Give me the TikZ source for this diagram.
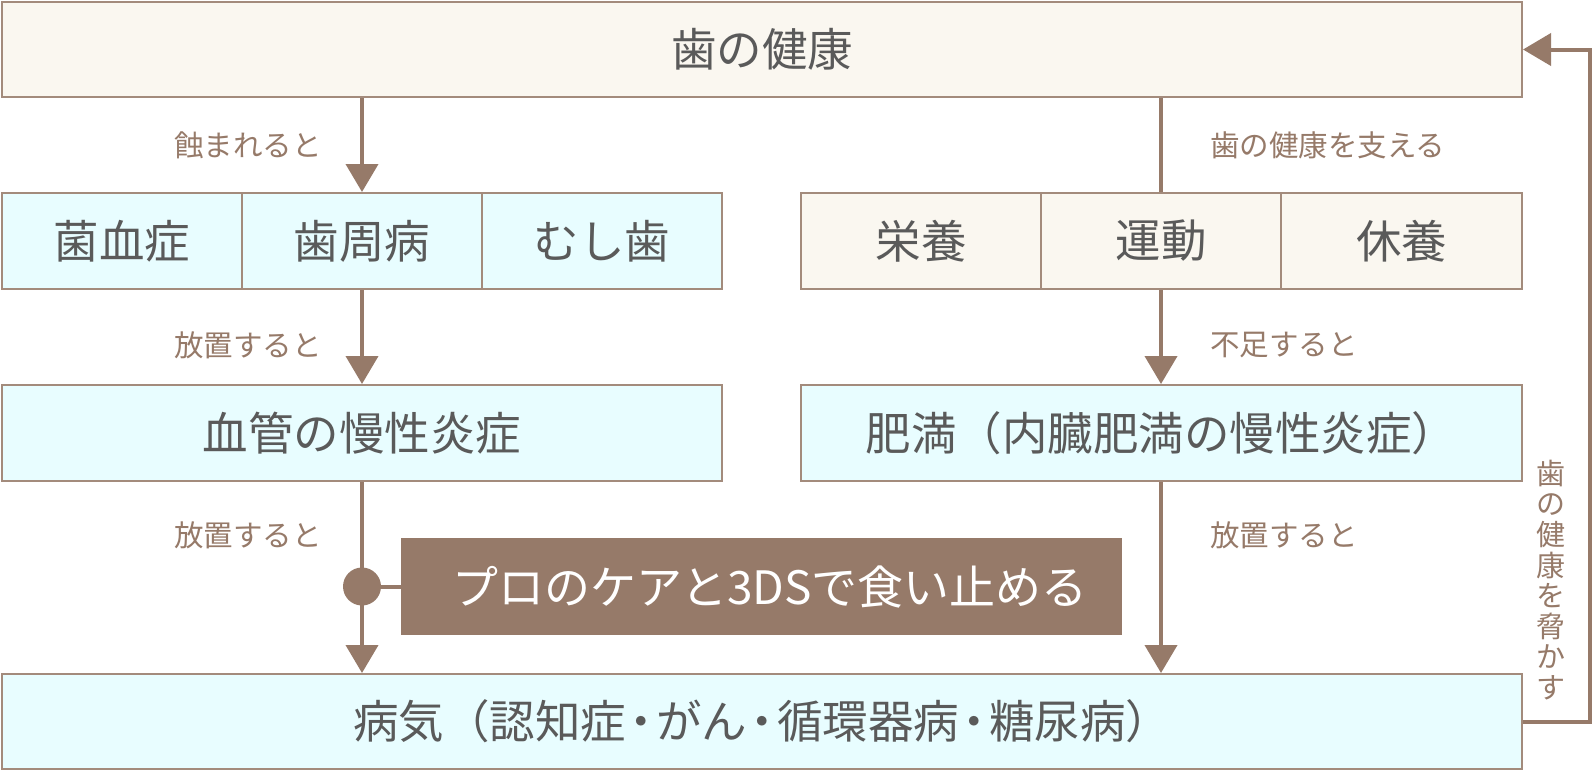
\documentclass[tikz,border=0pt]{standalone}
\usepackage{fontspec}
\setmainfont{Noto Sans CJK JP}
\usetikzlibrary{arrows.meta}
\definecolor{brn}{HTML}{967A69}
\definecolor{bord}{HTML}{A38B7C}
\definecolor{beigef}{HTML}{FAF7F0}
\definecolor{cyanf}{HTML}{E8FDFF}
\definecolor{txt}{HTML}{5A5A5A}
\newcommand{\nkg}{\makebox[30pt]{・}}
\begin{document}
\begin{tikzpicture}[x=1pt,y=-1pt,
  box/.style={draw=bord, line width=2pt, inner sep=0pt, text=txt,
    font=\fontsize{45.5}{50}\selectfont, minimum height=95pt},
  beigebox/.style={box, fill=beigef},
  cyanbox/.style={box, fill=cyanf},
  carebox/.style={fill=brn, draw=none, text=white, inner sep=0pt,
    font=\fontsize{46}{50}\selectfont, minimum width=721pt, minimum height=97pt},
  lbl/.style={text=brn, inner sep=0pt, font=\fontsize{29.5}{32}\selectfont},
  conn/.style={draw=brn, line width=4pt},
  arr/.style={conn, -{Triangle[width=32pt,length=28pt]}}
]
\useasboundingbox (0,0) rectangle (1592,771);
\fill[white] (0,0) rectangle (1592,771);

% boxes
\node[beigebox, minimum width=1520pt] (top) at (762,49.5) {歯の健康};
\node[cyanbox, minimum width=240pt, minimum height=96pt] (c1) at (122,241) {菌血症};
\node[cyanbox, minimum width=240pt, minimum height=96pt] (c2) at (362,241) {歯周病};
\node[cyanbox, minimum width=240pt, minimum height=96pt] (c3) at (602,241) {むし歯};
\node[beigebox, minimum width=240pt, minimum height=96pt] (r1) at (921,241) {栄養};
\node[beigebox, minimum width=240pt, minimum height=96pt] (r2) at (1161,241) {運動};
\node[beigebox, minimum width=241pt, minimum height=96pt] (r3) at (1401.5,241) {休養};
\node[cyanbox, minimum width=720pt, minimum height=96pt] (v3) at (362,433) {血管の慢性炎症};
\node[cyanbox, minimum width=721pt, minimum height=96pt] (o3) at (1161.5,433) {肥満（内臓肥満の慢性炎症）};
\node[cyanbox, minimum width=1520pt] (bot) at (762,721.5) {病気（認知症\nkg がん\nkg 循環器病\nkg 糖尿病）};
\node[carebox] (care) at (761.5,586.5) {\hspace*{17pt}プロのケアと3DSで食い止める};

% connectors
\draw[arr] (top.south -| c2.center) -- (c2.north);
\draw[conn] (top.south -| r2.center) -- (r2.north);
\draw[arr] (c2.south) -- (v3.north);
\draw[arr] (r2.south) -- (o3.north -| r2.center);
\draw[arr] (v3.south) -- (bot.north -| v3.south);
\draw[arr] (o3.south -| r2.center) -- (bot.north -| r2.center);
\coordinate (dot) at (v3.south |- care.west);
\fill[brn] (dot) circle (19pt);
\draw[conn] (dot) -- (care.west);
\draw[arr] (bot.east) -- ++(67,0) |- (top.east);

% labels
\node[lbl, anchor=east] (l1) at (322,145) {蝕まれると};
\node[lbl, anchor=east] (l2) at (322,345) {放置すると};
\node[lbl, anchor=east] (l3) at (322,535) {放置すると};
\node[lbl, anchor=west] (l4) at (1210,145) {歯の健康を支える};
\node[lbl, anchor=west] (l5) at (1210,345) {不足すると};
\node[lbl, anchor=west] (l6) at (1210,535) {放置すると};
\node[lbl, align=center, font=\fontsize{29}{30.6}\selectfont] (l7) at (1551,580)
  {歯\\の\\健\\康\\を\\脅\\か\\す};
\end{tikzpicture}
\end{document}
